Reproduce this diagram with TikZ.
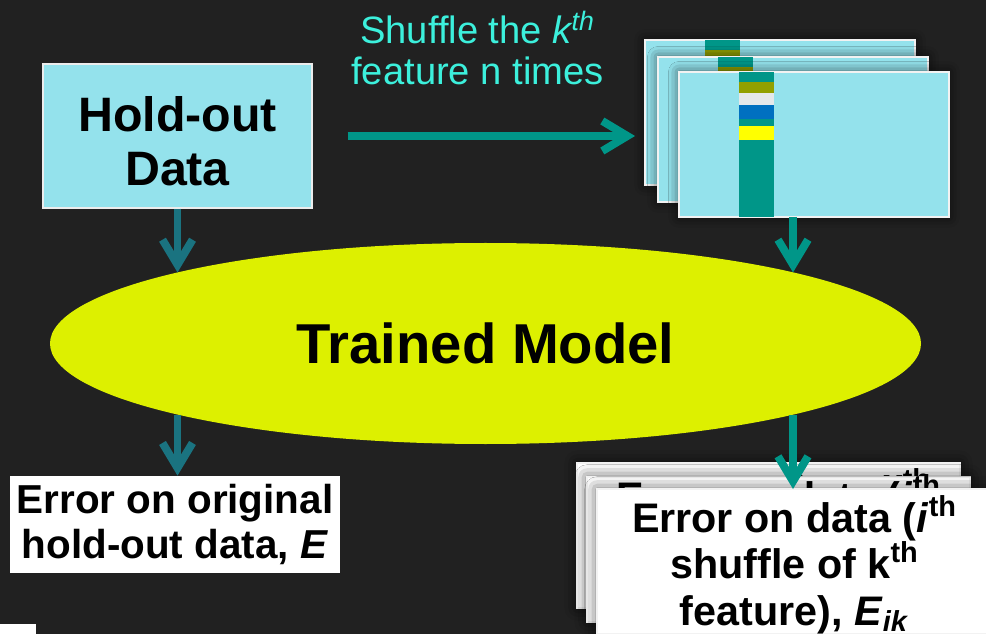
\documentclass[tikz,border=0pt]{standalone}
\usepackage{fontspec}
\setmainfont{Liberation Sans}
\usepackage{tikz}
\usetikzlibrary{arrows.meta,calc,positioning,shapes.geometric,shadows.blur}
\definecolor{bgc}{RGB}{33,33,33}
\definecolor{cardc}{RGB}{148,226,236}
\definecolor{modelc}{RGB}{221,240,0}
\definecolor{tealc}{RGB}{0,150,136}
\definecolor{dtealc}{RGB}{26,115,128}
\definecolor{shufc}{RGB}{60,240,220}
\definecolor{olivec}{RGB}{146,160,0}
\definecolor{greyc}{RGB}{229,232,234}
\definecolor{bluec}{RGB}{0,112,192}
\definecolor{yelc}{RGB}{255,255,0}
\tikzset{
  datacard/.style={fill=cardc,draw=white!90!gray,line width=0.8pt,outer sep=0pt,
    minimum width=5.4cm,minimum height=2.9cm,
    blur shadow={shadow xshift=0pt,shadow yshift=0pt,shadow blur radius=6pt,shadow opacity=70}},
  errcard/.style={fill=white,draw=white!90!gray,line width=0.8pt,outer sep=0pt,minimum height=2.9cm,
    blur shadow={shadow xshift=0pt,shadow yshift=0pt,shadow blur radius=7pt,shadow opacity=70}},
  errtext/.style={align=center,inner sep=0pt,font=\fontsize{23.5}{26.5}\selectfont\bfseries},
  flowd/.style={->,dtealc,line width=4.5pt},
  flowt/.style={->,tealc,line width=4.5pt}
}

\begin{document}
\begin{tikzpicture}[>={Straight Barb[length=0.5cm,width=0.6cm]}]
  \useasboundingbox (0,0) rectangle (19.72,-12.68);
  \clip (0,0) rectangle (19.72,-12.68);
  \fill[bgc] (0,0) rectangle (19.72,-12.68);
  \fill[white] (0,-12.48) rectangle (0.72,-12.68);
  % hold-out data and its shuffled copies
  \node[fill=cardc,draw=white!85!gray,line width=0.6pt,minimum width=5.38cm,minimum height=2.88cm] (hold) at (3.55,-2.72) {};
  \node[align=center,inner sep=0pt,font=\fontsize{27.5}{31}\selectfont\bfseries] (hold-txt)
    at ([yshift=-0.1cm]hold.center) {Hold-out\\Data};
  \node[text=shufc,align=center,font=\fontsize{21.7}{23}\selectfont] (shuf) at (9.55,-0.96)
    {Shuffle the \textit{k\textsuperscript{th}}\\feature n times};
  \foreach \nm/\cx/\cy in {ca/12.9/-0.8,cb/13.16/-1.14,cc/13.58/-1.44}{
    \node[datacard,anchor=north west] (\nm) at (\cx,\cy) {};
    \fill[tealc] ([xshift=1.2cm]\nm.north west) rectangle ([xshift=1.9cm]\nm.south west);
    \fill[olivec] ([xshift=1.2cm,yshift=-0.2cm]\nm.north west) rectangle ++(0.7,-0.22);
    \fill[greyc] ([xshift=1.2cm,yshift=-0.42cm]\nm.north west) rectangle ++(0.7,-0.24);
    \fill[bluec] ([xshift=1.2cm,yshift=-0.66cm]\nm.north west) rectangle ++(0.7,-0.28);
    \fill[yelc] ([xshift=1.2cm,yshift=-1.08cm]\nm.north west) rectangle ++(0.7,-0.28);
  }
  % model
  \node[ellipse,fill=modelc,inner sep=0pt,outer sep=0pt,minimum width=17.42cm,minimum height=4.02cm,
    font=\fontsize{32}{36}\selectfont\bfseries] (model) at (9.71,-6.87) {Trained Model};
  % errors
  \node[fill=white,minimum width=6.6cm,minimum height=1.94cm,align=center,
    font=\fontsize{23}{25.5}\selectfont\bfseries] (errE) at (3.5,-10.49)
    {Error on original\\hold-out data, \textit{E}};
  \foreach \nm/\cx/\cy/\w/\ty in {ea/11.54/-9.26/7.66/-0.1,eb/11.74/-9.54/7.66/0.06,ec/11.94/-9.78/7.9/-0.12}{
    \node[errcard,minimum width=\w cm,anchor=north west] (\nm) at (\cx,\cy) {};
    \node[errtext,anchor=north] (\nm-txt) at ([yshift=\ty cm]\nm.north)
      {Error on data (\textit{i}\textsuperscript{th}\\shuffle of k\textsuperscript{th}\\feature), \textit{E}\textsubscript{\textit{ik}}};
  }
  % arrows
  \coordinate (rx) at (15.86,0);
  \draw[flowt] ([xshift=0.7cm]hold.east) -- ([xshift=-0.2cm]ca.west |- hold.east);
  \draw[flowd] (hold.south) -- (hold.south |- model.167);
  \draw[flowd] (hold.south |- model.193) -- (hold.south |- errE.north);
  \draw[flowt] (rx |- cc.south) -- (rx |- model.13);
  \draw[flowt] (rx |- model.-13) -- (rx |- ec.north);
\end{tikzpicture}
\end{document}
